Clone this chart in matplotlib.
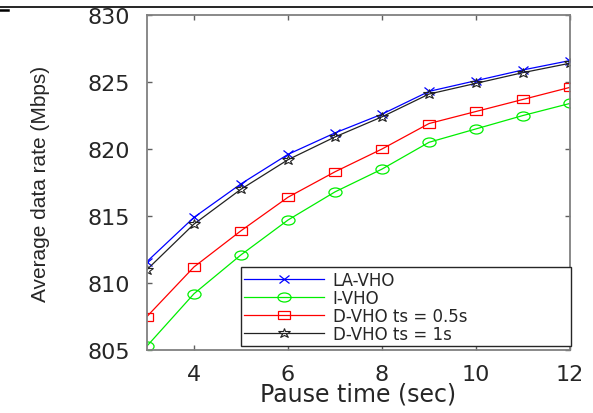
import matplotlib
matplotlib.use("Agg")
import matplotlib.pyplot as plt
from matplotlib.markers import MarkerStyle
from matplotlib.transforms import Affine2D
from matplotlib.lines import Line2D

# ---- data ----
pause_time = [3, 4, 5, 6, 7, 8, 9, 10, 11, 12]
la_vho = [811.6, 814.9, 817.4, 819.6, 821.2, 822.6, 824.3, 825.1, 825.9, 826.6]
i_vho = [805.3, 809.2, 812.1, 814.7, 816.8, 818.5, 820.5, 821.5, 822.5, 823.4]
d_vho_05 = [807.5, 811.2, 813.9, 816.4, 818.3, 820.0, 821.9, 822.8, 823.7, 824.6]
d_vho_1 = [811.0, 814.4, 817.0, 819.2, 820.9, 822.4, 824.1, 824.9, 825.7, 826.4]
series_labels = ["LA-VHO", "I-VHO", "D-VHO ts = 0.5s", "D-VHO ts = 1s"]
xticks = [4, 6, 8, 10, 12]
yticks = [805, 810, 815, 820, 825, 830]

plt.rcParams['font.family'] = ['DejaVu Sans']

fig = plt.figure(figsize=(5.93, 4.14), dpi=100)
ax = fig.add_axes([147/593, 1 - 351/414, 423/593, 335/414])

def mk(m, sx):
    return MarkerStyle(m, transform=Affine2D().scale(sx, 1.0))

ax.plot(pause_time, la_vho, color='#0000ff', lw=0.9, marker=mk('x', 1.4), ms=5.5,
        mew=0.9, label=series_labels[0])
ax.plot(pause_time, i_vho, color='#00ee00', lw=0.9, marker=mk('o', 1.45), ms=6.5,
        mfc='none', mew=0.9, label=series_labels[1])
ax.plot(pause_time, d_vho_05, color='#ff0000', lw=0.9, marker=mk('s', 1.6), ms=5.5,
        mfc='none', mew=0.9, label=series_labels[2])
ax.plot(pause_time, d_vho_1, color='#222222', lw=0.9, marker=mk('*', 1.3), ms=7,
        mfc='none', mew=0.8, label=series_labels[3])

ax.set_xlim(3, 12)
ax.set_ylim(805, 830)
ax.set_xticks(xticks)
ax.set_yticks(yticks)

for s in ax.spines.values():
    s.set_color('#808080')
    s.set_linewidth(1.3)
ax.tick_params(axis='both', direction='in', length=3.5, width=1.0, color='#606060',
               top=True, right=True, labelcolor='#262626', labelsize=16)
ax.tick_params(axis='x', pad=10)
ax.tick_params(axis='y', pad=12)

ax.set_xlabel("Pause time (sec)", fontsize=17, color='#262626')
ax.xaxis.set_label_coords(0.5, (351 - 383) / 335)
ax.set_ylabel("Average data rate (Mbps)", fontsize=15, color='#262626',
              family=['Liberation Sans', 'DejaVu Sans'])
ax.yaxis.set_label_coords((50 - 147) / 423, 0.5)

leg = ax.legend(loc='lower left', bbox_to_anchor=(0.222, 0.012, 0.78, 0.2155),
                mode='expand', borderaxespad=0, fontsize=12, labelspacing=0.0,
                handlelength=4.8, handletextpad=0.5, numpoints=1, fancybox=False,
                framealpha=1, edgecolor='#262626', borderpad=0.2)
leg.get_frame().set_linewidth(1.0)
for t in leg.get_texts():
    t.set_color('#262626')

# scan artifacts at the top of the figure
fig.add_artist(Line2D([0, 1], [1 - 8/414, 1 - 8/414], transform=fig.transFigure,
                      color='black', lw=1.2))
fig.add_artist(Line2D([0, 8/593], [1 - 10.5/414, 1 - 10.5/414], transform=fig.transFigure,
                      color='black', lw=1.8))

fig.savefig("out.png", dpi=100)
